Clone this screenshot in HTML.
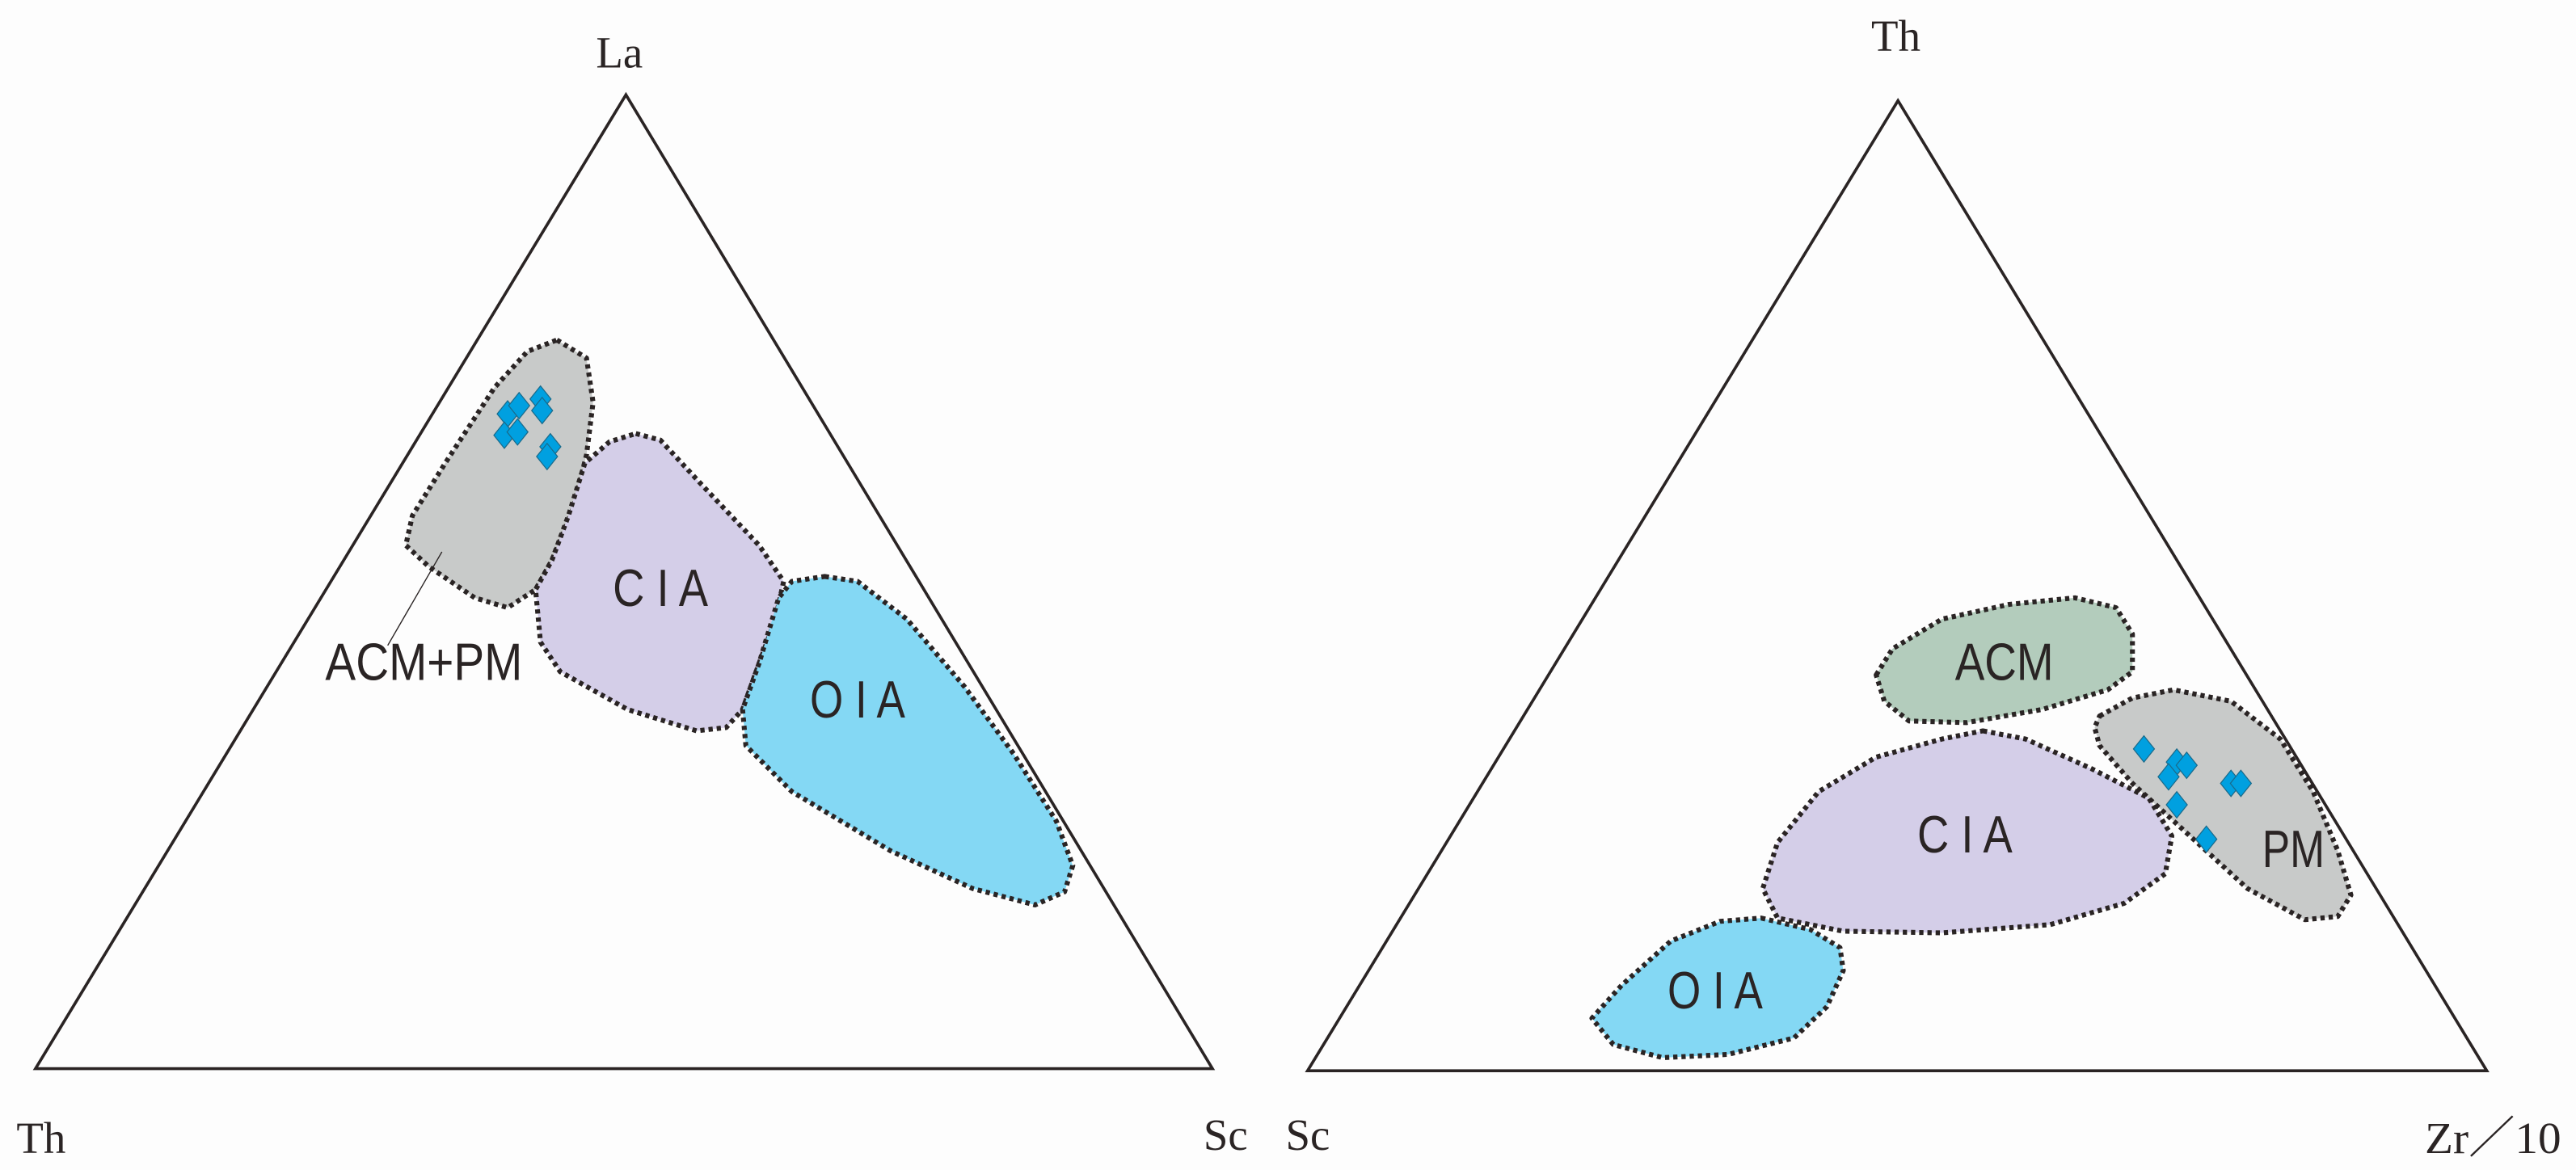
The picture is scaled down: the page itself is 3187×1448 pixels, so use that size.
<!DOCTYPE html>
<html><head><meta charset="utf-8"><style>
html,body{margin:0;padding:0;background:#fdfdfd;}
svg{display:block;}
.r{stroke:#2a2424;stroke-width:3;stroke-dasharray:2.6 2.4;stroke-linejoin:round;}
.t{fill:none;stroke:#2a2424;stroke-width:1.8;}
.lab{font-family:"Liberation Sans",sans-serif;font-size:32px;fill:#2a2424;}
.ax{font-family:"Liberation Serif",serif;font-size:27px;fill:#2a2424;}
.d{fill:#00a0e0;stroke:#1a6a8a;stroke-width:0.6;}
</style></head><body>
<svg width="3187" height="1448" viewBox="0 0 1568 712.4" preserveAspectRatio="none">
<rect width="1568" height="712.4" fill="#fdfdfd"/>
<defs><path id="dm" d="M0,-8 L6.4,0 L0,8 L-6.4,0 Z"/></defs>
<!-- LEFT -->
<polygon class="t" points="381,57.7 21.6,650.7 738,650.7"/>
<polygon class="r" fill="#c8cac9" points="339,207 357,218 361,245 357,277 349,309 336,341 326,359 309,370 289,364 261,345 247,332 251,314 271,282 301,236 321,214"/>
<polygon class="r" fill="#d4cee8" points="387,264 402,268 427,295 462,332 477,354 472,377 462,404 452,432 442,443 424,445 382,432 341,409 329,391 326,359 336,341 346,314 356,282 371,269"/>
<polygon class="r" fill="#84d8f4" points="502,351 522,354 552,377 587,418 617,459 643,500 653,527 648,543 630,551 592,541 542,518 482,482 454,454 452,432 462,404 474,364 482,354"/>
<line x1="269" y1="336" x2="236" y2="393" stroke="#2a2424" stroke-width="0.7"/>
<g class="d">
<use href="#dm" x="309" y="252"/><use href="#dm" x="316" y="247"/><use href="#dm" x="329" y="243"/><use href="#dm" x="330" y="250"/>
<use href="#dm" x="307" y="265"/><use href="#dm" x="315" y="263"/><use href="#dm" x="335" y="272"/><use href="#dm" x="333" y="278"/>
</g>
<text class="lab" x="402" y="369" text-anchor="middle" textLength="58" lengthAdjust="spacingAndGlyphs">C I A</text>
<text class="lab" x="258" y="414" text-anchor="middle" textLength="120" lengthAdjust="spacingAndGlyphs">ACM+PM</text>
<text class="lab" x="522" y="437" text-anchor="middle" textLength="58" lengthAdjust="spacingAndGlyphs">O I A</text>
<text class="ax" x="377" y="41" text-anchor="middle">La</text>
<text class="ax" x="25" y="702" text-anchor="middle">Th</text>
<text class="ax" x="746" y="700" text-anchor="middle">Sc</text>
<!-- RIGHT -->
<polygon class="t" points="1155.3,61.3 795.9,652 1513.7,652"/>
<polygon class="r" fill="#b3ccbc" points="1142,411 1152,395 1182,377 1223,368 1263,364 1288,370 1298,386 1298,409 1283,420 1243,432 1197,440 1162,439 1147,427"/>
<polygon class="r" fill="#c8cac9" points="1278,436 1298,425 1323,420 1358,427 1388,450 1408,482 1423,518 1431,545 1423,558 1403,560 1368,541 1333,509 1298,477 1278,454 1275,443"/>
<polygon class="r" fill="#d4cee8" points="1207,445 1233,450 1273,468 1308,486 1322,509 1318,532 1293,550 1248,563 1182,568 1122,567 1082,559 1073,541 1082,513 1107,482 1142,461 1182,450"/>
<polygon class="r" fill="#84d8f4" points="1072,559 1102,566 1120,577 1122,591 1112,613 1092,632 1052,642 1012,644 982,636 969,620 987,600 1017,573 1047,561"/>
<g class="d">
<use href="#dm" x="1305" y="456"/><use href="#dm" x="1325" y="464"/><use href="#dm" x="1331" y="466"/><use href="#dm" x="1320" y="473"/>
<use href="#dm" x="1325" y="490"/><use href="#dm" x="1343" y="511"/><use href="#dm" x="1358" y="477"/><use href="#dm" x="1364" y="477"/>
</g>
<text class="lab" x="1220" y="414" text-anchor="middle" textLength="60" lengthAdjust="spacingAndGlyphs">ACM</text>
<text class="lab" x="1196" y="519" text-anchor="middle" textLength="58" lengthAdjust="spacingAndGlyphs">C I A</text>
<text class="lab" x="1044" y="614" text-anchor="middle" textLength="58" lengthAdjust="spacingAndGlyphs">O I A</text>
<text class="lab" x="1396" y="528" text-anchor="middle" textLength="38" lengthAdjust="spacingAndGlyphs">PM</text>
<text class="ax" x="1154" y="31" text-anchor="middle">Th</text>
<text class="ax" x="796" y="700" text-anchor="middle">Sc</text>
<text class="ax" x="1476" y="702" textLength="83" lengthAdjust="spacingAndGlyphs">Zr／10</text>
</svg>
</body></html>
